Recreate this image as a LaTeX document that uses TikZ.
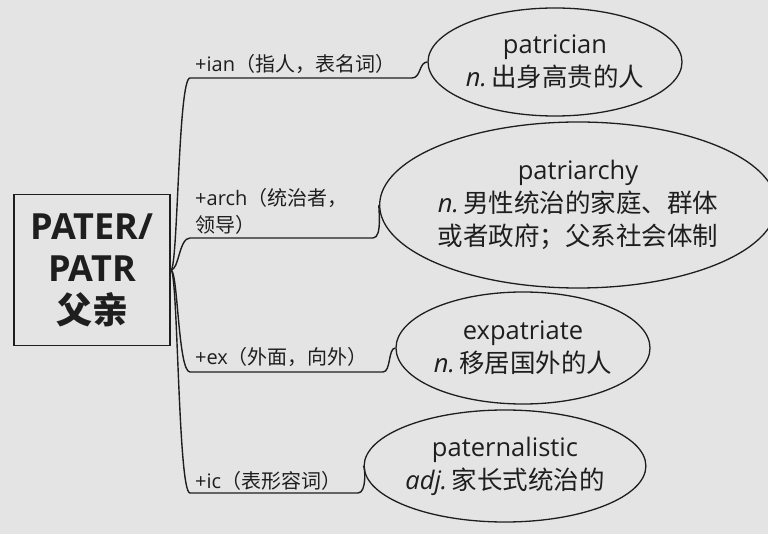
\documentclass[tikz,border=0pt]{standalone}
\usepackage{fontspec}
\setmainfont{Open Sans}
\newfontfamily\cjk{Noto Sans CJK SC}
\usetikzlibrary{shapes.geometric}
\definecolor{bgcol}{RGB}{228,228,228}
\definecolor{ink}{RGB}{30,30,30}

\begin{document}
\begin{tikzpicture}[
  x=1pt,y=-1pt,
  root/.style={draw=ink,line width=1.8pt,minimum width=156pt,minimum height=151pt,align=center,font=\fontsize{36}{42}\selectfont\bfseries,text=ink},
  word/.style={ellipse,draw=ink,line width=1.3pt,inner sep=0pt,align=center,font=\fontsize{25.5}{33}\selectfont,text=ink},
  lbl/.style={anchor=west,inner sep=0pt,align=left,font=\fontsize{20}{27}\selectfont,text=ink},
  branch/.style={draw=ink,line width=1.4pt},
]
  \useasboundingbox[fill=bgcol] (0,0) rectangle (768,534);

  \node[root] (root) at (92,270) {PATER/\\PATR\\{\cjk 父亲}};

  \node[word,minimum width=254pt,minimum height=108pt] (patrician) at (555,62)
    {patrician\\\textit{n.}\,{\cjk 出身高贵的人}};
  \node[word,minimum width=380pt,minimum height=166pt] (patriarchy) at (578,205)
    {patriarchy\\\textit{n.}\,{\cjk 男性统治的家庭、群体}\\{\cjk 或者政府；父系社会体制}};
  \node[word,minimum width=254pt,minimum height=112pt] (expatriate) at (523,348)
    {expatriate\\\textit{n.}\,{\cjk 移居国外的人}};
  \node[word,minimum width=262pt,minimum height=112pt] (paternal) at (505,466)
    {paternalistic\\\textit{adj.}\,{\cjk 家长式统治的}};

  \node[lbl] (ian)  at (195,64)  {+ian{\cjk（指人，表名词）}};
  \node[lbl] (arch) at (195,211) {+arch{\cjk（统治者，}\\{\cjk 领导）}};
  \node[lbl] (ex)   at (195,357) {+ex{\cjk（外面，向外）}};
  \node[lbl] (ic)   at (195,481) {+ic{\cjk（表形容词）}};

  % branches: root -> underline -> ellipse
  \draw[branch] (root.east) .. controls (178,270) and (178,78) .. (190,78) -- (412,78)
    .. controls (421,78) and (419,62) .. (patrician.west);
  \draw[branch] (root.east) .. controls (179,270) and (179,238) .. (190,238) -- (373,238)
    .. controls (383,238) and (378,205) .. (patriarchy.west);
  \draw[branch] (root.east) .. controls (178,270) and (178,372) .. (190,372) -- (383,372)
    .. controls (391,372) and (388,348) .. (expatriate.west);
  \draw[branch] (root.east) .. controls (178,270) and (178,493) .. (190,493) -- (358,493)
    .. controls (367,493) and (365,466) .. (paternal.west);
\end{tikzpicture}
\end{document}
